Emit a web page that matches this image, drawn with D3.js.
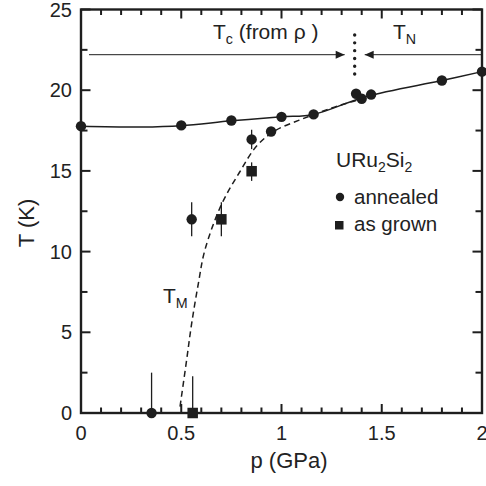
<!DOCTYPE html>
<html>
<head>
<meta charset="utf-8">
<script src="https://cdn.jsdelivr.net/npm/d3@7"></script>
<style>
  html, body { margin: 0; padding: 0; background: #fff; }
  svg { display: block; }
  text { font-family: "Liberation Sans", Arial, Helvetica, sans-serif; fill: #222; }
</style>
</head>
<body>
<svg id="chart" width="486" height="486"></svg>
<script>
// ---------- data ----------
const annealedP    = [0, 0.50, 0.75, 1.00, 1.16, 1.372, 1.40, 1.447, 1.80, 2.00, 0.552, 0.851, 0.948, 0.352];
const annealedT    = [17.77, 17.82, 18.12, 18.35, 18.5, 19.78, 19.47, 19.73, 20.6, 21.15, 12.0, 16.95, 17.44, 0];
const annealedErrU = [0, 0, 0, 0, 0, 0, 0, 0, 0, 0, 1.05, 0.6, 0, 2.5];
const annealedErrD = [0, 0, 0, 0, 0, 0, 0, 0, 0, 0, 1.05, 0.6, 0, 0];

const grownP    = [0.557, 0.70, 0.851];
const grownT    = [0, 12.0, 14.98];
const grownErrU = [2.27, 1.05, 0.55];
const grownErrD = [0, 1.05, 0.6];

// T0 (solid) guide line
const solidP = [0, 0.30, 0.50, 0.75, 1.00, 1.16, 1.42, 1.80, 2.00];
const solidT = [17.77, 17.72, 17.80, 18.10, 18.35, 18.50, 19.60, 20.60, 21.15];

// T_M (dashed) guide line
const dashP = [0.494, 0.527, 0.552, 0.585, 0.618, 0.70, 0.79, 0.88, 0.97, 1.10, 1.25, 1.34, 1.40];
const dashT = [0.4, 3.3, 5.55, 8.0, 10.1, 12.9, 14.9, 16.6, 17.5, 18.2, 18.9, 19.25, 19.45];

const xTicks = [0, 0.5, 1, 1.5, 2];
const xTickLabels = ["0", "0.5", "1", "1.5", "2"];
const yTicks = [0, 5, 10, 15, 20, 25];
const yTickLabels = ["0", "5", "10", "15", "20", "25"];
const xMinorTicks = [0.1, 0.2, 0.3, 0.4, 0.6, 0.7, 0.8, 0.9, 1.1, 1.2, 1.3, 1.4, 1.6, 1.7, 1.8, 1.9];
const yMinorTicks = [2.5, 7.5, 12.5, 17.5, 22.5];

const boundaryP = 1.365;            // dotted boundary line
const boundaryT = [21.0, 23.9];
const arrowT = 22.2;
const arrowLeftEnd = 1.315;         // tip of right-pointing arrow
const arrowRightEnd = 1.415;        // tip of left-pointing arrow

// ---------- layout ----------
const svg = d3.select("#chart");
const ink = "#1e1e1e";
const x = d3.scaleLinear().domain([0, 2]).range([81, 482]);
const y = d3.scaleLinear().domain([0, 25]).range([413, 9.5]);

// defs: arrowhead
svg.append("defs").append("marker")
  .attr("id", "arr").attr("viewBox", "0 0 10 10")
  .attr("refX", 10).attr("refY", 5)
  .attr("markerWidth", 10).attr("markerHeight", 9)
  .attr("markerUnits", "userSpaceOnUse")
  .attr("orient", "auto")
  .append("path").attr("d", "M0,0.5 L10,5 L0,9.5 Z").attr("fill", ink);

// ---------- ticks (inward, on all four sides) ----------
function xTickLines(vals, len) {
  svg.selectAll(null).data(vals).enter().append("path")
    .attr("d", d => `M${x(d)},${y(0)}V${y(0) - len}`)
    .attr("stroke", ink).attr("stroke-width", 2).attr("fill", "none");
  svg.selectAll(null).data(vals).enter().append("path")
    .attr("d", d => `M${x(d)},${y(25)}V${y(25) + len}`)
    .attr("stroke", ink).attr("stroke-width", 2).attr("fill", "none");
}
function yTickLines(vals, len) {
  svg.selectAll(null).data(vals).enter().append("path")
    .attr("d", d => `M${x(0)},${y(d)}H${x(0) + len}`)
    .attr("stroke", ink).attr("stroke-width", 2).attr("fill", "none");
  svg.selectAll(null).data(vals).enter().append("path")
    .attr("d", d => `M${x(2)},${y(d)}H${x(2) - len}`)
    .attr("stroke", ink).attr("stroke-width", 2).attr("fill", "none");
}
xTickLines(xMinorTicks, 5.5);
xTickLines(xTicks, 9);
yTickLines(yMinorTicks, 6.5);
yTickLines(yTicks, 9.5);

// tick labels
svg.append("g").selectAll("text").data(xTicks).join("text")
  .attr("x", d => x(d)).attr("y", 440).attr("text-anchor", "middle")
  .attr("font-size", 20).text((d, i) => xTickLabels[i]);
svg.append("g").selectAll("text").data(yTicks).join("text")
  .attr("x", 72).attr("y", d => y(d) + 7).attr("text-anchor", "end")
  .attr("font-size", 20).text((d, i) => yTickLabels[i]);

// frame
svg.append("rect")
  .attr("x", x(0)).attr("y", y(25))
  .attr("width", x(2) - x(0)).attr("height", y(0) - y(25))
  .attr("fill", "none").attr("stroke", ink).attr("stroke-width", 2.4);

// axis titles
svg.append("text").attr("x", 289).attr("y", 468).attr("text-anchor", "middle")
  .attr("font-size", 22).text("p (GPa)");
svg.append("text").attr("transform", "translate(34,223) rotate(-90)").attr("text-anchor", "middle")
  .attr("font-size", 22).text("T (K)");

// ---------- curves ----------
const line = d3.line().x(d => x(d[0])).y(d => y(d[1])).curve(d3.curveCatmullRom.alpha(0.5));
svg.append("path").datum(solidP.map((p, i) => [p, solidT[i]]))
  .attr("d", line).attr("fill", "none").attr("stroke", ink).attr("stroke-width", 1.5);
svg.append("path").datum(dashP.map((p, i) => [p, dashT[i]]))
  .attr("d", line).attr("fill", "none").attr("stroke", ink).attr("stroke-width", 1.5)
  .attr("stroke-dasharray", "6,4");

// ---------- arrows and boundary ----------
svg.append("line").attr("x1", x(0) + 8).attr("x2", x(arrowLeftEnd))
  .attr("y1", y(arrowT)).attr("y2", y(arrowT))
  .attr("stroke", ink).attr("stroke-width", 1).attr("marker-end", "url(#arr)");
svg.append("line").attr("x1", x(2)).attr("x2", x(arrowRightEnd))
  .attr("y1", y(arrowT)).attr("y2", y(arrowT))
  .attr("stroke", ink).attr("stroke-width", 1).attr("marker-end", "url(#arr)");
svg.append("line").attr("x1", x(boundaryP)).attr("x2", x(boundaryP))
  .attr("y1", y(boundaryT[0])).attr("y2", y(boundaryT[1]))
  .attr("stroke", ink).attr("stroke-width", 3.4).attr("stroke-linecap", "round")
  .attr("stroke-dasharray", `0,${(y(boundaryT[0]) - y(boundaryT[1])) / 6}`);

// ---------- error bars ----------
function errBars(P, T, U, D) {
  svg.append("g").selectAll("line").data(P.map((p, i) => ({p, t: T[i], u: U[i], d: D[i]})).filter(e => e.u > 0 || e.d > 0))
    .join("line")
    .attr("x1", e => x(e.p)).attr("x2", e => x(e.p))
    .attr("y1", e => y(e.t + e.u)).attr("y2", e => y(e.t - e.d))
    .attr("stroke", ink).attr("stroke-width", 1.3);
}
errBars(annealedP, annealedT, annealedErrU, annealedErrD);
errBars(grownP, grownT, grownErrU, grownErrD);

// ---------- markers ----------
svg.append("g").selectAll("circle").data(annealedP.map((p, i) => [p, annealedT[i]]))
  .join("circle").attr("cx", d => x(d[0])).attr("cy", d => y(d[1])).attr("r", 5.2).attr("fill", ink);
const sq = 10.5;
svg.append("g").selectAll("rect").data(grownP.map((p, i) => [p, grownT[i]]))
  .join("rect").attr("x", d => x(d[0]) - sq / 2).attr("y", d => y(d[1]) - sq / 2)
  .attr("width", sq).attr("height", sq).attr("fill", ink);

// ---------- annotations ----------
function subLabel(xp, yb, main, sub, rest, fs) {
  const t = svg.append("text").attr("x", xp).attr("y", yb).attr("font-size", fs);
  t.append("tspan").text(main);
  t.append("tspan").attr("font-size", fs * 0.68).attr("dy", 5).text(sub);
  if (rest) t.append("tspan").attr("dy", -5).text(rest);
  return t;
}
subLabel(213, 39, "T", "c", " (from ρ )", 21);
subLabel(393, 39, "T", "N", null, 21);
subLabel(163, 303, "T", "M", null, 21);

// compound label
const comp = svg.append("text").attr("x", 336).attr("y", 167).attr("font-size", 21);
comp.append("tspan").text("URu");
comp.append("tspan").attr("font-size", 14).attr("dy", 5).text("2");
comp.append("tspan").attr("dy", -5).text("Si");
comp.append("tspan").attr("font-size", 14).attr("dy", 5).text("2");

// legend
svg.append("circle").attr("cx", 340).attr("cy", 197).attr("r", 4.2).attr("fill", ink);
svg.append("text").attr("x", 354).attr("y", 203.5).attr("font-size", 20.5).text("annealed");
svg.append("rect").attr("x", 335).attr("y", 221).attr("width", 8.5).attr("height", 8.5).attr("fill", ink);
svg.append("text").attr("x", 354).attr("y", 231).attr("font-size", 20.5).text("as grown");
</script>
</body>
</html>
